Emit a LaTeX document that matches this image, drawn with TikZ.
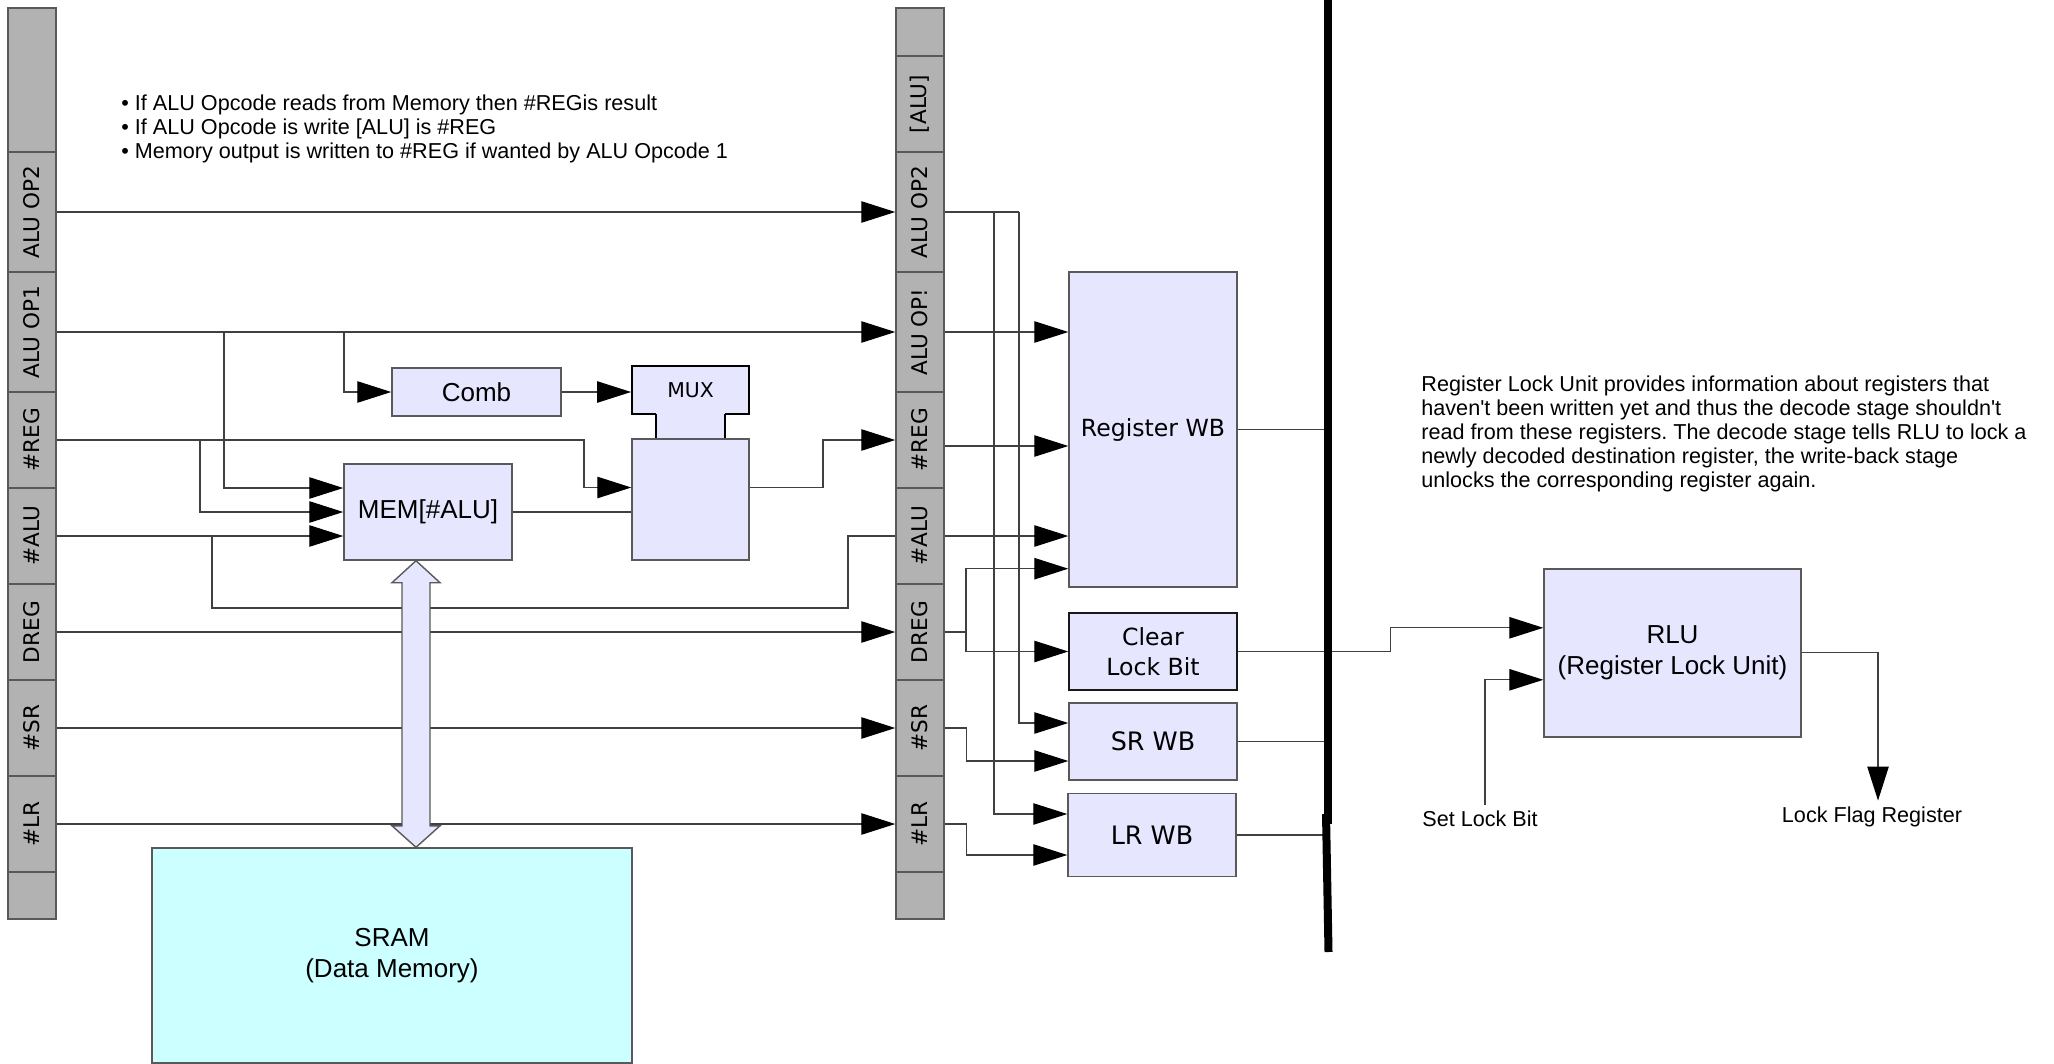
\documentclass[tikz,border=0pt]{standalone}
\usepackage{fontspec}
\setmainfont{Liberation Sans}[Ligatures=TeXOff]
\newfontfamily\dvs{DejaVu Sans}
\usetikzlibrary{arrows.meta,calc}

\definecolor{lav}{RGB}{230,230,255}
\definecolor{sramc}{RGB}{204,255,255}

\newcommand\notefont{\fontsize{10.8}{12.1}\selectfont\frenchspacing}
\newcommand\boxfont{\fontsize{13}{15.2}\selectfont}
\newcommand\wbfont{\dvs\fontsize{11.8}{14.7}\selectfont}
\newcommand\wbbigfont{\dvs\fontsize{12.7}{15}\selectfont}
\newcommand\cellfont{\dvs\fontsize{10.8}{13}\selectfont}
\newcommand\muxfont{\dvs\fontsize{10.2}{12}\selectfont}

\begin{document}
\begin{tikzpicture}[x=0.5pt,y=-0.5pt,
  wire/.style={draw=black!75,line width=0.6pt},
  sig/.style={wire,-{Triangle[length=17pt,width=10.7pt,color=black]}},
  cell/.style={draw=black!65,line width=0.7pt,fill=black!30,minimum width=24pt,inner sep=0pt,font=\cellfont},
  unit/.style={draw=black!65,line width=0.7pt,fill=lav,inner sep=0pt,align=center,font=\boxfont},
  wbunit/.style={unit,minimum width=84pt,font=\wbfont},
  note/.style={inner sep=0pt,align=left,font=\notefont}]
\useasboundingbox (0,0) rectangle (2054,1064);

\node[cell,minimum height=72pt] (lTop) at (32,80) {};
\node[cell,minimum height=60pt] (lOPb) at (32,212) {\rotatebox{90}{ALU OP2}};
\node[cell,minimum height=60pt] (lOPa) at (32,332) {\rotatebox{90}{ALU OP1}};
\node[cell,minimum height=48pt] (lREG) at (32,440) {\rotatebox{90}{\#REG}};
\node[cell,minimum height=48pt] (lALU) at (32,536) {\rotatebox{90}{\#ALU}};
\node[cell,minimum height=48pt] (lDREG) at (32,632) {\rotatebox{90}{DREG}};
\node[cell,minimum height=48pt] (lSR) at (32,728) {\rotatebox{90}{\#SR}};
\node[cell,minimum height=48pt] (lLR) at (32,824) {\rotatebox{90}{\#LR}};
\node[cell,minimum height=23.5pt] (lBot) at (32,895.5) {};

\node[cell,minimum height=24pt] (rTop) at (920,32) {};
\node[cell,minimum height=48pt] (rMEM) at (920,104) {\rotatebox{90}{[ALU]}};
\node[cell,minimum height=60pt] (rOPb) at (920,212) {\rotatebox{90}{ALU OP2}};
\node[cell,minimum height=60pt] (rOPa) at (920,332) {\rotatebox{90}{ALU OP!}};
\node[cell,minimum height=48pt] (rREG) at (920,440) {\rotatebox{90}{\#REG}};
\node[cell,minimum height=48pt] (rALU) at (920,536) {\rotatebox{90}{\#ALU}};
\node[cell,minimum height=48pt] (rDREG) at (920,632) {\rotatebox{90}{DREG}};
\node[cell,minimum height=48pt] (rSR) at (920,728) {\rotatebox{90}{\#SR}};
\node[cell,minimum height=48pt] (rLR) at (920,824) {\rotatebox{90}{\#LR}};
\node[cell,minimum height=23.5pt] (rBot) at (920,895.5) {};

\node[note,anchor=north west] (ops) at (121,94) {• If ALU Opcode reads from Memory then \#REGis result\\• If ALU Opcode is write [ALU] is \#REG\\• Memory output is written to \#REG if wanted by ALU Opcode 1};

\node[unit,minimum width=84.5pt,minimum height=24pt] (comb) at (476.5,392) {Comb};
\node[unit,minimum width=84pt,minimum height=48pt] (mem) at (428,512) {MEM[\#ALU]};
\node[unit,draw=black,line width=0.9pt,minimum width=58.5pt,minimum height=24pt,font=\muxfont] (muxt) at (690.5,390) {MUX};
\fill[lav] (656,412) rectangle (725,440);
\draw[black,line width=0.9pt] (656,414) -- (656,439) (725,414) -- (725,439);
\node[unit,minimum width=58.5pt,minimum height=60.5pt] (muxb) at (690.5,499.5) {};
\node[unit,fill=sramc,minimum width=240pt,minimum height=107.5pt] (sram) at (392,955.5) {SRAM\\(Data Memory)};

\node[wbunit,minimum height=157.5pt] (regwb) at (1153,429.5) {Register WB};
\node[wbunit,draw=black!90,minimum height=38.5pt] (clear) at (1153,651.5) {Clear\\Lock Bit};
\node[wbunit,minimum height=38.5pt,font=\wbbigfont] (srwb) at (1153,741.5) {SR WB};
\node[wbunit,minimum height=41.5pt,font=\wbbigfont] (lrwb) at (1152,835) {LR WB};

\node[note,anchor=north west] (rlunote) at (1421,375) {Register Lock Unit provides information about registers that\\haven't been written yet and thus the decode stage shouldn't\\read from these registers. The decode stage tells RLU to lock a\\newly decoded destination register, the write-back stage\\unlocks the corresponding register again.};
\node[unit,minimum width=128.5pt,minimum height=84pt] (rlu) at (1672.5,652.8) {RLU\\(Register Lock Unit)};
\node[note,inner sep=3pt] (setlb) at (1480,819) {Set Lock Bit};
\node[note,inner sep=3pt] (lfr) at (1872,817) {Lock Flag Register};

\draw[sig] (lOPb.east) -- (rOPb.west);
\draw[sig] (lOPa.east) -- (rOPa.west);
\draw[sig] (lDREG.east) -- (rDREG.west);
\draw[sig] (lSR.east) -- (rSR.west);
\draw[sig] (lLR.east) -- (rLR.west);

\coordinate (opJa) at (224,332);
\coordinate (opJb) at (344,332);
\coordinate (regJ) at (200,440);
\coordinate (aluJ) at (212,536);
\draw[sig] (opJb) |- (comb.west);
\draw[sig] (opJa) |- ($(mem.west)+(0,-24)$);
\draw[sig] (regJ) |- (mem.west);
\draw[sig] (lALU.east) -- ($(mem.west)+(0,24)$);
\draw[sig] (lREG.east) -- (584,440) |- ($(muxb.west)+(0,-12)$);
\draw[sig] (comb.east) -- (comb.east -| muxt.west);
\draw[wire] (mem.east) -- (mem.east -| muxb.west);
\draw[sig] ($(muxb.east)+(0,-12)$) -- (823,487.5) |- (rREG.west);
\draw[wire] (aluJ) |- (848,608) |- (rALU.west);

\coordinate (opJc) at (994,212);
\coordinate (opJd) at (1019,212);
\coordinate (dregJ) at (966,632);
\draw[wire] (rOPb.east) -- (opJd);
\draw[sig] (opJd) |- ($(srwb.west)+(0,-18.5)$);
\draw[sig] (opJc) |- ($(lrwb.west)+(0,-21)$);
\draw[sig] (rOPa.east) -- (rOPa.east -| regwb.west);
\draw[sig] ($(rREG.east)+(0,6)$) -- ($(rREG.east -| regwb.west)+(0,6)$);
\draw[sig] (rALU.east) -- (rALU.east -| regwb.west);
\draw[wire] (rDREG.east) -- (dregJ);
\draw[sig] (dregJ) |- ($(regwb.south west)+(0,-19)$);
\draw[sig] (dregJ) |- (clear.west);
\draw[sig] (rSR.east) -- ++(22,0) |- ($(srwb.west)+(0,19.5)$);
\draw[sig] (rLR.east) -- ++(22,0) |- ($(lrwb.west)+(0,20)$);

\coordinate (busT) at ($(mem.south)+(-12,0)$);
\coordinate (busB) at ($(sram.north)+(24,0)$);
\draw[draw=black!65,line width=0.7pt,fill=lav] (busT) -- ++(24,22) -- ++(-10,0) -- ($(busB)+(14,-21.5)$) -- ++(10,0) -- (busB) -- ++(-24,-21.5) -- ++(10,0) -- ($(busT)+(-14,22)$) -- ++(-10,0) -- cycle;

\coordinate (wbT) at (1328,0);
\draw[wire] (regwb.east) -- (regwb.east -| wbT);
\draw[wire] (srwb.east) -- (srwb.east -| wbT);
\draw[wire] (lrwb.east) -- (lrwb.east -| wbT);
\draw[sig] (clear.east) -- ++(153,0) |- ($(rlu.west)+(0,-25)$);
\draw[line width=4pt] (wbT) -- (1328,824);
\draw[line width=4pt] (1326,814) -- (1328.5,952);

\draw[sig] ($(setlb.north)+(5,0)$) |- ($(rlu.west)+(0,27)$);
\draw[sig] (rlu.east) -| ($(lfr.north)+(6,0)$);
\end{tikzpicture}
\end{document}
